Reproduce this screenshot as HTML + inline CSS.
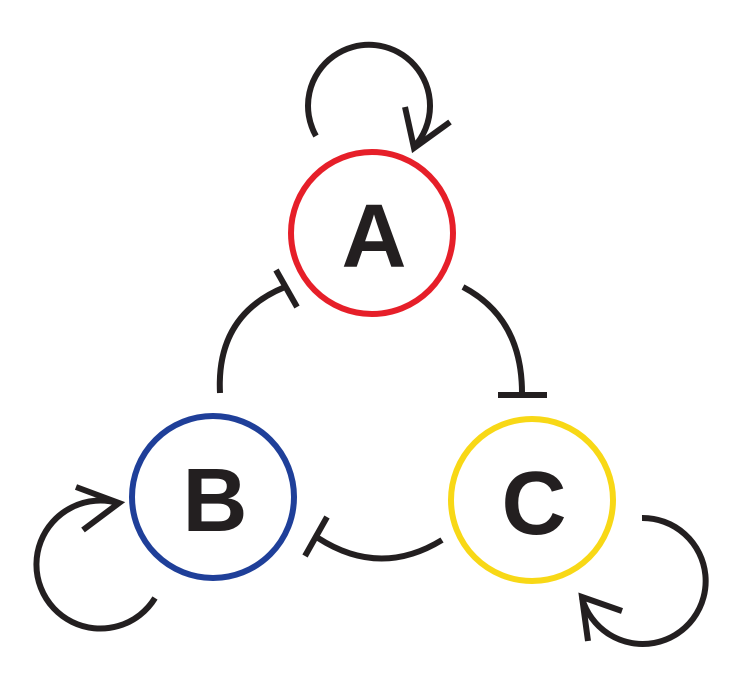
<!DOCTYPE html>
<html><head><meta charset="utf-8"><style>html,body{margin:0;padding:0;background:#fff}svg{display:block}</style></head>
<body>
<svg width="746" height="693" viewBox="0 0 746 693" xmlns="http://www.w3.org/2000/svg">
<g fill="none" stroke-width="6">
<circle cx="372" cy="233" r="81" stroke="#e61f29"/>
<circle cx="213" cy="497" r="81" stroke="#1f3f99"/>
<circle cx="532" cy="500" r="81" stroke="#f8d816"/>
</g>
<g fill="none" stroke="#231f20" stroke-width="6">
<path d="M316,136 A61,61 0 1 1 414,147"/>
<path d="M405,107 L414,148 L450,122"/>
<path d="M155,598 A64,64 0 1 1 118,503"/>
<path d="M76,487 L119,503 L83,530"/>
<path d="M642,518 A63,63 0 1 1 582,598"/>
<path d="M588,641 L582,597 L622,611"/>
<path d="M463,287 Q522,318 522,393"/>
<path d="M498,395 L547,395"/>
<path d="M220,393 Q216,315 285,287"/>
<path d="M276,270 L297,307"/>
<path d="M442,540 Q380,578 318,538"/>
<path d="M327,517 L305,556"/>
</g>
<g font-family="Liberation Sans, sans-serif" font-weight="bold" font-size="90" fill="#231f20" text-anchor="middle">
<text x="374" y="267">A</text>
<text x="215" y="531">B</text>
<text x="534" y="534">C</text>
</g>
</svg>
</body></html>
